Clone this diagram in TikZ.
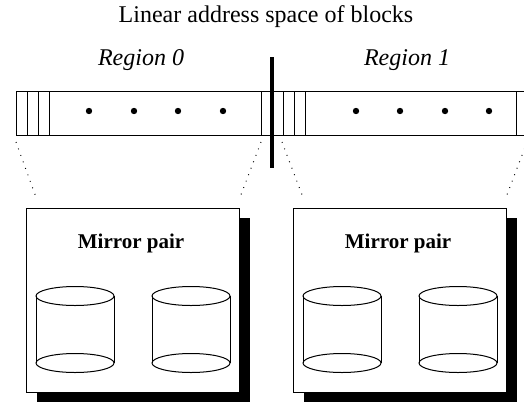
\documentclass[tikz,border=0pt]{standalone}
\usepackage{fontspec}
\setmainfont{Liberation Serif}
\usetikzlibrary{shadows}
\begin{document}
\begin{tikzpicture}[x=1pt,y=-1pt,
  barline/.style={line width=1pt},
  sepline/.style={line width=4pt},
  bdot/.style={fill=black},
  proj/.style={line width=1pt,dash pattern=on 0.9pt off 6pt},
  mbox/.style={draw,line width=1pt,fill=white,minimum width=213pt,minimum height=184pt,inner sep=0pt,
    drop shadow={shadow xshift=10pt,shadow yshift=-10pt,opacity=1,fill=black}},
  cyl/.style={line width=1pt},
  titlefont/.style={font=\fontsize{24}{28}\selectfont},
  regfont/.style={font=\fontsize{24}{28}\selectfont\itshape},
  mirfont/.style={font=\fontsize{21}{25}\selectfont\bfseries}
]
\useasboundingbox (0,0) rectangle (524,402);
% title and region labels
\node[titlefont,anchor=base] (title) at (266,22) {Linear address space of blocks};
\node[regfont,anchor=base] (reg0) at (141,65) {Region 0};
\node[regfont,anchor=base] (reg1) at (407,65) {Region 1};
% block bar
\draw[barline] (16,91) -- (524,91);
\draw[barline] (16,135) -- (524,135);
\foreach \bx in {16,27,38,49,261,283,294,305,516}
  \draw[barline] (\bx,91) -- (\bx,135);
\foreach \dx in {89,134,178,223,356,400,445,489}
  \fill[bdot] (\dx,111) circle [radius=3.2pt];
% projection lines
\draw[proj] (16,142) -- (37,200);
\draw[proj] (261,142) -- (239,200);
\draw[proj] (282,142) -- (304,200);
\draw[proj] (527,142) -- (505,200);
% mirror boxes
\node[mbox] (box0) at (133,300) {};
\node[mbox] (box1) at (400,300) {};
\node[mirfont,anchor=base] (mir0) at (131,248) {Mirror pair};
\node[mirfont,anchor=base] (mir1) at (398,248) {Mirror pair};
% disks
\foreach \cx in {75,191,342,458}{
  \draw[cyl] (\cx,296) ellipse [x radius=39pt, y radius=9.5pt];
  \draw[cyl] (\cx,363) ellipse [x radius=39pt, y radius=9.5pt];
  \draw[cyl] (\cx-39,296) -- (\cx-39,363);
  \draw[cyl] (\cx+39,296) -- (\cx+39,363);
}
% separator
\draw[sepline] (272,57) -- (272,168);
\end{tikzpicture}
\end{document}
